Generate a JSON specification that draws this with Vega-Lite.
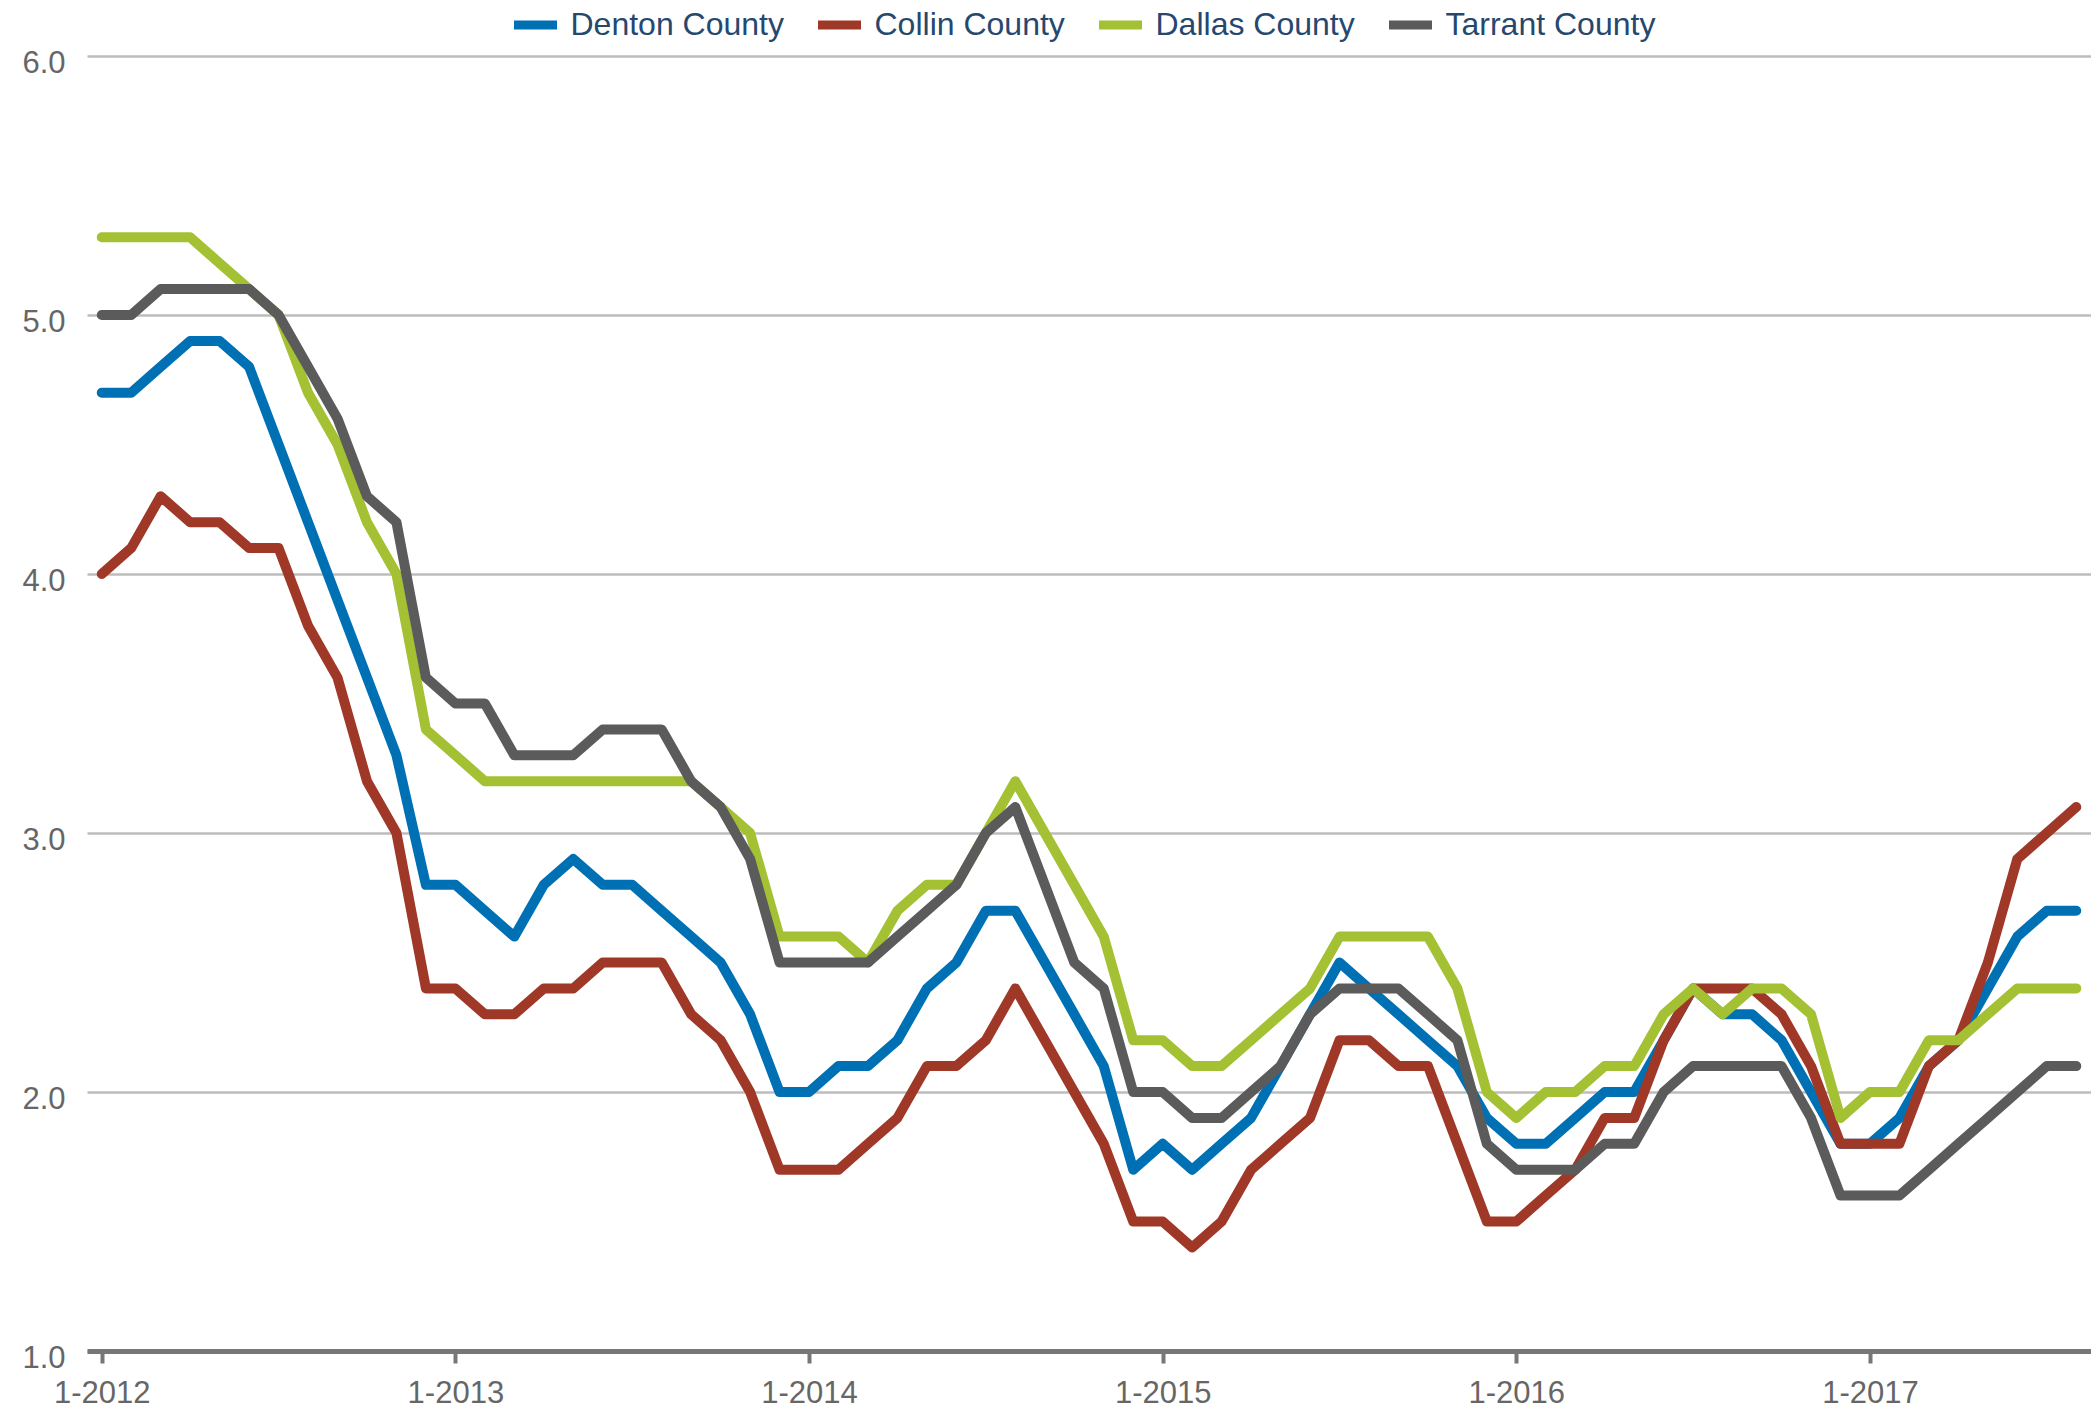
{
  "$schema": "https://vega.github.io/schema/vega-lite/v6.json",
  "autosize": "none",
  "width": 2004,
  "height": 1295,
  "padding": {"left": 87, "top": 56, "right": 0, "bottom": 62},
  "background": "white",
  "config": {
    "view": {"stroke": null},
    "font": "Liberation Sans"
  },
  "data": {
    "values": [
      {"m": "1-2012", "Denton County": 4.7, "Collin County": 4.0, "Dallas County": 5.3, "Tarrant County": 5.0},
      {"m": "2-2012", "Denton County": 4.7, "Collin County": 4.1, "Dallas County": 5.3, "Tarrant County": 5.0},
      {"m": "3-2012", "Denton County": 4.8, "Collin County": 4.3, "Dallas County": 5.3, "Tarrant County": 5.1},
      {"m": "4-2012", "Denton County": 4.9, "Collin County": 4.2, "Dallas County": 5.3, "Tarrant County": 5.1},
      {"m": "5-2012", "Denton County": 4.9, "Collin County": 4.2, "Dallas County": 5.2, "Tarrant County": 5.1},
      {"m": "6-2012", "Denton County": 4.8, "Collin County": 4.1, "Dallas County": 5.1, "Tarrant County": 5.1},
      {"m": "7-2012", "Denton County": 4.5, "Collin County": 4.1, "Dallas County": 5.0, "Tarrant County": 5.0},
      {"m": "8-2012", "Denton County": 4.2, "Collin County": 3.8, "Dallas County": 4.7, "Tarrant County": 4.8},
      {"m": "9-2012", "Denton County": 3.9, "Collin County": 3.6, "Dallas County": 4.5, "Tarrant County": 4.6},
      {"m": "10-2012", "Denton County": 3.6, "Collin County": 3.2, "Dallas County": 4.2, "Tarrant County": 4.3},
      {"m": "11-2012", "Denton County": 3.3, "Collin County": 3.0, "Dallas County": 4.0, "Tarrant County": 4.2},
      {"m": "12-2012", "Denton County": 2.8, "Collin County": 2.4, "Dallas County": 3.4, "Tarrant County": 3.6},
      {"m": "1-2013", "Denton County": 2.8, "Collin County": 2.4, "Dallas County": 3.3, "Tarrant County": 3.5},
      {"m": "2-2013", "Denton County": 2.7, "Collin County": 2.3, "Dallas County": 3.2, "Tarrant County": 3.5},
      {"m": "3-2013", "Denton County": 2.6, "Collin County": 2.3, "Dallas County": 3.2, "Tarrant County": 3.3},
      {"m": "4-2013", "Denton County": 2.8, "Collin County": 2.4, "Dallas County": 3.2, "Tarrant County": 3.3},
      {"m": "5-2013", "Denton County": 2.9, "Collin County": 2.4, "Dallas County": 3.2, "Tarrant County": 3.3},
      {"m": "6-2013", "Denton County": 2.8, "Collin County": 2.5, "Dallas County": 3.2, "Tarrant County": 3.4},
      {"m": "7-2013", "Denton County": 2.8, "Collin County": 2.5, "Dallas County": 3.2, "Tarrant County": 3.4},
      {"m": "8-2013", "Denton County": 2.7, "Collin County": 2.5, "Dallas County": 3.2, "Tarrant County": 3.4},
      {"m": "9-2013", "Denton County": 2.6, "Collin County": 2.3, "Dallas County": 3.2, "Tarrant County": 3.2},
      {"m": "10-2013", "Denton County": 2.5, "Collin County": 2.2, "Dallas County": 3.1, "Tarrant County": 3.1},
      {"m": "11-2013", "Denton County": 2.3, "Collin County": 2.0, "Dallas County": 3.0, "Tarrant County": 2.9},
      {"m": "12-2013", "Denton County": 2.0, "Collin County": 1.7, "Dallas County": 2.6, "Tarrant County": 2.5},
      {"m": "1-2014", "Denton County": 2.0, "Collin County": 1.7, "Dallas County": 2.6, "Tarrant County": 2.5},
      {"m": "2-2014", "Denton County": 2.1, "Collin County": 1.7, "Dallas County": 2.6, "Tarrant County": 2.5},
      {"m": "3-2014", "Denton County": 2.1, "Collin County": 1.8, "Dallas County": 2.5, "Tarrant County": 2.5},
      {"m": "4-2014", "Denton County": 2.2, "Collin County": 1.9, "Dallas County": 2.7, "Tarrant County": 2.6},
      {"m": "5-2014", "Denton County": 2.4, "Collin County": 2.1, "Dallas County": 2.8, "Tarrant County": 2.7},
      {"m": "6-2014", "Denton County": 2.5, "Collin County": 2.1, "Dallas County": 2.8, "Tarrant County": 2.8},
      {"m": "7-2014", "Denton County": 2.7, "Collin County": 2.2, "Dallas County": 3.0, "Tarrant County": 3.0},
      {"m": "8-2014", "Denton County": 2.7, "Collin County": 2.4, "Dallas County": 3.2, "Tarrant County": 3.1},
      {"m": "9-2014", "Denton County": 2.5, "Collin County": 2.2, "Dallas County": 3.0, "Tarrant County": 2.8},
      {"m": "10-2014", "Denton County": 2.3, "Collin County": 2.0, "Dallas County": 2.8, "Tarrant County": 2.5},
      {"m": "11-2014", "Denton County": 2.1, "Collin County": 1.8, "Dallas County": 2.6, "Tarrant County": 2.4},
      {"m": "12-2014", "Denton County": 1.7, "Collin County": 1.5, "Dallas County": 2.2, "Tarrant County": 2.0},
      {"m": "1-2015", "Denton County": 1.8, "Collin County": 1.5, "Dallas County": 2.2, "Tarrant County": 2.0},
      {"m": "2-2015", "Denton County": 1.7, "Collin County": 1.4, "Dallas County": 2.1, "Tarrant County": 1.9},
      {"m": "3-2015", "Denton County": 1.8, "Collin County": 1.5, "Dallas County": 2.1, "Tarrant County": 1.9},
      {"m": "4-2015", "Denton County": 1.9, "Collin County": 1.7, "Dallas County": 2.2, "Tarrant County": 2.0},
      {"m": "5-2015", "Denton County": 2.1, "Collin County": 1.8, "Dallas County": 2.3, "Tarrant County": 2.1},
      {"m": "6-2015", "Denton County": 2.3, "Collin County": 1.9, "Dallas County": 2.4, "Tarrant County": 2.3},
      {"m": "7-2015", "Denton County": 2.5, "Collin County": 2.2, "Dallas County": 2.6, "Tarrant County": 2.4},
      {"m": "8-2015", "Denton County": 2.4, "Collin County": 2.2, "Dallas County": 2.6, "Tarrant County": 2.4},
      {"m": "9-2015", "Denton County": 2.3, "Collin County": 2.1, "Dallas County": 2.6, "Tarrant County": 2.4},
      {"m": "10-2015", "Denton County": 2.2, "Collin County": 2.1, "Dallas County": 2.6, "Tarrant County": 2.3},
      {"m": "11-2015", "Denton County": 2.1, "Collin County": 1.8, "Dallas County": 2.4, "Tarrant County": 2.2},
      {"m": "12-2015", "Denton County": 1.9, "Collin County": 1.5, "Dallas County": 2.0, "Tarrant County": 1.8},
      {"m": "1-2016", "Denton County": 1.8, "Collin County": 1.5, "Dallas County": 1.9, "Tarrant County": 1.7},
      {"m": "2-2016", "Denton County": 1.8, "Collin County": 1.6, "Dallas County": 2.0, "Tarrant County": 1.7},
      {"m": "3-2016", "Denton County": 1.9, "Collin County": 1.7, "Dallas County": 2.0, "Tarrant County": 1.7},
      {"m": "4-2016", "Denton County": 2.0, "Collin County": 1.9, "Dallas County": 2.1, "Tarrant County": 1.8},
      {"m": "5-2016", "Denton County": 2.0, "Collin County": 1.9, "Dallas County": 2.1, "Tarrant County": 1.8},
      {"m": "6-2016", "Denton County": 2.2, "Collin County": 2.2, "Dallas County": 2.3, "Tarrant County": 2.0},
      {"m": "7-2016", "Denton County": 2.4, "Collin County": 2.4, "Dallas County": 2.4, "Tarrant County": 2.1},
      {"m": "8-2016", "Denton County": 2.3, "Collin County": 2.4, "Dallas County": 2.3, "Tarrant County": 2.1},
      {"m": "9-2016", "Denton County": 2.3, "Collin County": 2.4, "Dallas County": 2.4, "Tarrant County": 2.1},
      {"m": "10-2016", "Denton County": 2.2, "Collin County": 2.3, "Dallas County": 2.4, "Tarrant County": 2.1},
      {"m": "11-2016", "Denton County": 2.0, "Collin County": 2.1, "Dallas County": 2.3, "Tarrant County": 1.9},
      {"m": "12-2016", "Denton County": 1.8, "Collin County": 1.8, "Dallas County": 1.9, "Tarrant County": 1.6},
      {"m": "1-2017", "Denton County": 1.8, "Collin County": 1.8, "Dallas County": 2.0, "Tarrant County": 1.6},
      {"m": "2-2017", "Denton County": 1.9, "Collin County": 1.8, "Dallas County": 2.0, "Tarrant County": 1.6},
      {"m": "3-2017", "Denton County": 2.1, "Collin County": 2.1, "Dallas County": 2.2, "Tarrant County": 1.7},
      {"m": "4-2017", "Denton County": 2.2, "Collin County": 2.2, "Dallas County": 2.2, "Tarrant County": 1.8},
      {"m": "5-2017", "Denton County": 2.4, "Collin County": 2.5, "Dallas County": 2.3, "Tarrant County": 1.9},
      {"m": "6-2017", "Denton County": 2.6, "Collin County": 2.9, "Dallas County": 2.4, "Tarrant County": 2.0},
      {"m": "7-2017", "Denton County": 2.7, "Collin County": 3.0, "Dallas County": 2.4, "Tarrant County": 2.1},
      {"m": "8-2017", "Denton County": 2.7, "Collin County": 3.1, "Dallas County": 2.4, "Tarrant County": 2.1}
    ]
  },
  "transform": [
    {"fold": ["Denton County", "Collin County", "Dallas County", "Tarrant County"], "as": ["county", "value"]}
  ],
  "mark": {"type": "line", "strokeWidth": 10, "strokeCap": "round", "strokeJoin": "round"},
  "encoding": {
    "x": {
      "field": "m",
      "type": "ordinal",
      "sort": null,
      "scale": {"type": "point", "padding": 0.5},
      "axis": {
        "title": null,
        "values": ["1-2012", "1-2013", "1-2014", "1-2015", "1-2016", "1-2017"],
        "labelAngle": 0,
        "labelFont": "Liberation Sans",
        "labelFontSize": 31,
        "labelColor": "#666666",
        "labelPadding": 15,
        "tickSize": 12,
        "tickWidth": 4,
        "tickColor": "#777777",
        "domainColor": "#777777",
        "domainWidth": 5,
        "grid": false
      }
    },
    "y": {
      "field": "value",
      "type": "quantitative",
      "scale": {"domain": [1, 6], "nice": false, "zero": false},
      "axis": {
        "title": null,
        "values": [1, 2, 3, 4, 5, 6],
        "format": ".1f",
        "labelFont": "Liberation Sans",
        "labelFontSize": 31,
        "labelColor": "#666666",
        "labelPadding": 22,
        "labelOffset": 7,
        "ticks": false,
        "domain": false,
        "grid": true,
        "gridColor": "#bdbdbd",
        "gridWidth": 2.5
      }
    },
    "color": {
      "field": "county",
      "type": "nominal",
      "scale": {
        "domain": ["Denton County", "Collin County", "Dallas County", "Tarrant County"],
        "range": ["#0070B5", "#A03828", "#A3C133", "#5B5B5B"]
      },
      "legend": {
        "title": null,
        "orient": "none",
        "direction": "horizontal",
        "legendX": 422.5,
        "legendY": -57,
        "padding": 0,
        "symbolType": "stroke",
        "symbolSize": 1849,
        "symbolStrokeWidth": 9,
        "labelFont": "Liberation Sans",
        "labelFontSize": 32,
        "labelLimit": 0,
        "labelColor": "#26486E",
        "labelOffset": 9,
        "columnPadding": 15
      }
    }
  }
}
